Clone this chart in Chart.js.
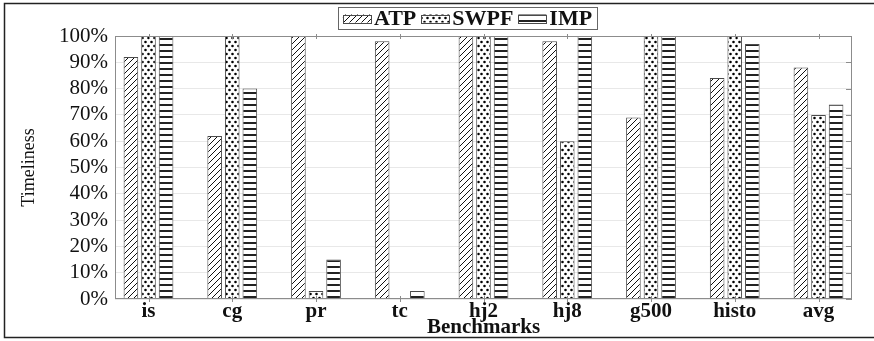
<!DOCTYPE html>
<html lang="en">
<head>
<meta charset="UTF-8">
<title>Timeliness per benchmark</title>
<script src="https://cdn.jsdelivr.net/npm/chart.js"></script>
<style>
    html, body {
        margin: 0;
        padding: 0;
        background: #fff;
    }
</style>
</head>
<body>
<canvas id="timeliness" width="874" height="341"></canvas>
<script>
    // values (percent)
    const CATEGORIES = ['is', 'cg', 'pr', 'tc', 'hj2', 'hj8', 'g500', 'histo', 'avg'];
    const SERIES_NAMES = ['ATP', 'SWPF', 'IMP'];
    const ATP = [92, 62, 100, 98, 100, 98, 69, 84, 88];
    const SWPF = [100, 100, 3, 0, 100, 60, 100, 100, 70];
    const IMP = [100, 80, 15, 3, 100, 100, 100, 97, 74];
    const Y_MAX = 100;
    const Y_STEP = 10;

    const SERIF = '"Liberation Serif", "Times New Roman", serif';
    const LEGEND_CENTER_X = 467.5;

    // black-on-white fill patterns, like the pgfplots ones
    function makePattern(kind) {
        const tile = document.createElement('canvas');
        const t = tile.getContext('2d');
        if (kind === 'hatch') {
            tile.width = 6; tile.height = 6;
            t.fillStyle = '#fff';
            t.fillRect(0, 0, 6, 6);
            t.strokeStyle = '#111';
            t.lineWidth = 1;
            t.beginPath();
            t.moveTo(0, 6); t.lineTo(6, 0);
            t.moveTo(-1, 1); t.lineTo(1, -1);
            t.moveTo(5, 7); t.lineTo(7, 5);
            t.stroke();
        } else if (kind === 'dots') {
            tile.width = 6; tile.height = 8;
            t.fillStyle = '#fff';
            t.fillRect(0, 0, 6, 8);
            t.fillStyle = '#000';
            t.beginPath();
            t.arc(1.5, 2, 1.3, 0, Math.PI * 2);
            t.arc(4.5, 6, 1.3, 0, Math.PI * 2);
            t.fill();
        } else {
            tile.width = 4; tile.height = 6;
            t.fillStyle = '#fff';
            t.fillRect(0, 0, 4, 6);
            t.fillStyle = '#222';
            t.fillRect(0, 2, 4, 2);
        }
        return t.createPattern(tile, 'repeat');
    }

    const PATTERNS = [makePattern('hatch'), makePattern('dots'), makePattern('hlines')];
    const VALUES = [ATP, SWPF, IMP];

    const datasets = SERIES_NAMES.map((name, s) => ({
        label: name,
        data: VALUES[s].map((v, i) => ({ x: i, y: v })),
        backgroundColor: PATTERNS[s],
        borderColor: '#4a4a4a',
        borderWidth: 1,
        categoryPercentage: 0.63,
        barPercentage: 0.83
    }));

    function drawLegend(ctx) {
        const sw = 28, sh = 8, gapText = 3, gapItem = 5, pad = 5;
        ctx.font = 'bold 22px ' + SERIF;
        const widths = SERIES_NAMES.map(n => sw + gapText + ctx.measureText(n).width);
        const total = widths.reduce((a, b) => a + b, 0) + gapItem * (widths.length - 1) + pad * 2;
        const left = LEGEND_CENTER_X - total / 2;
        const top = 7, h = 22, mid = top + h / 2 + 0.5;

        ctx.strokeStyle = '#666';
        ctx.lineWidth = 1;
        ctx.strokeRect(Math.round(left) + 0.5, top + 0.5, Math.round(total), h);

        let x = left + pad;
        SERIES_NAMES.forEach((name, s) => {
            ctx.fillStyle = PATTERNS[s];
            ctx.fillRect(x, mid - sh / 2, sw, sh);
            ctx.strokeStyle = '#4a4a4a';
            ctx.strokeRect(Math.round(x) + 0.5, Math.round(mid - sh / 2) + 0.5, sw, sh);
            ctx.fillStyle = '#111';
            ctx.textBaseline = 'middle';
            ctx.textAlign = 'left';
            ctx.fillText(name, x + sw + gapText, mid + 1);
            x += widths[s] + gapItem;
        });
    }

    const framePlugin = {
        id: 'frame',
        afterDraw(chart) {
            const { ctx, chartArea: a, scales: { x, y } } = chart;
            ctx.save();

            // axis box
            ctx.strokeStyle = '#8c8c8c';
            ctx.lineWidth = 1;
            ctx.strokeRect(a.left + 0.5, a.top + 0.5, a.right - a.left - 1, a.bottom - a.top - 1);

            // small tick marks: category centres on top and bottom, values on the right
            ctx.beginPath();
            CATEGORIES.forEach((c, i) => {
                const px = Math.round(x.getPixelForValue(i)) + 0.5;
                ctx.moveTo(px, a.top - 2); ctx.lineTo(px, a.top + 3);
                ctx.moveTo(px, a.bottom - 3); ctx.lineTo(px, a.bottom + 3);
            });
            y.ticks.forEach(t => {
                const py = Math.round(y.getPixelForValue(t.value)) + 0.5;
                ctx.moveTo(a.right - 6, py); ctx.lineTo(a.right, py);
            });
            ctx.stroke();

            drawLegend(ctx);

            // outer figure frame
            ctx.strokeStyle = '#222';
            ctx.lineWidth = 1.5;
            ctx.strokeRect(4.5, 3.5, 880, 334);
            ctx.restore();
        }
    };

    new Chart(document.getElementById('timeliness'), {
        type: 'bar',
        data: { datasets },
        plugins: [framePlugin],
        options: {
            responsive: false,
            animation: false,
            devicePixelRatio: 1,
            layout: { padding: { left: 0, right: 22, top: 36, bottom: 1 } },
            plugins: {
                legend: { display: false },
                tooltip: { enabled: false }
            },
            scales: {
                x: {
                    type: 'linear',
                    min: -0.4,
                    max: CATEGORIES.length - 0.6,
                    offset: false,
                    grid: { display: false, drawTicks: false },
                    border: { display: false },
                    afterBuildTicks: scale => {
                        scale.ticks = CATEGORIES.map((c, i) => ({ value: i }));
                    },
                    afterFit: scale => { scale.height = 41; },
                    ticks: {
                        padding: 0,
                        autoSkip: false,
                        maxRotation: 0,
                        color: '#111',
                        font: { family: SERIF, size: 21, weight: 'bold' },
                        callback: v => CATEGORIES[v]
                    },
                    title: {
                        display: true,
                        text: 'Benchmarks',
                        color: '#111',
                        padding: 0,
                        font: { family: SERIF, size: 21, weight: 'bold' }
                    }
                },
                y: {
                    min: 0,
                    max: Y_MAX,
                    grid: { color: '#e8e8e8', drawTicks: false },
                    border: { display: false },
                    afterFit: scale => { scale.width = 115; },
                    ticks: {
                        stepSize: Y_STEP,
                        autoSkip: false,
                        padding: 7,
                        color: '#111',
                        font: { family: SERIF, size: 21 },
                        callback: v => v + '%'
                    },
                    title: {
                        display: true,
                        text: 'Timeliness',
                        color: '#111',
                        padding: { top: 18, bottom: 0 },
                        font: { family: SERIF, size: 18 }
                    }
                }
            }
        }
    });
</script>
</body>
</html>
